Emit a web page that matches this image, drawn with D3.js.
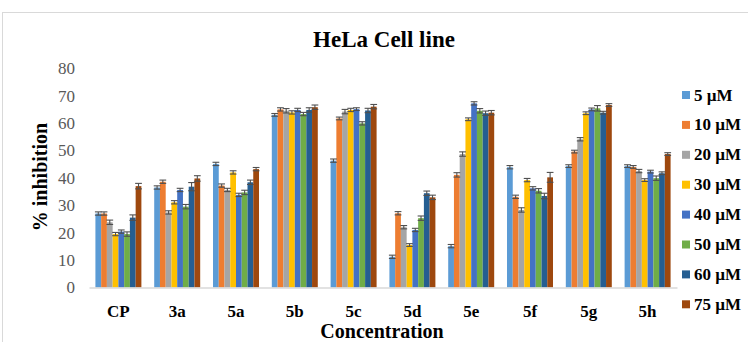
<!DOCTYPE html>
<html>
<head>
<meta charset="utf-8">
<script src="https://cdn.jsdelivr.net/npm/d3@7"></script>
<style>
  html, body { margin: 0; padding: 0; background: #fff; }
  svg { display: block; }
  text { font-family: "Liberation Serif", "Times New Roman", serif; }
</style>
</head>
<body>
<svg id="chart" width="748" height="342"></svg>
<script>
// Compounds on the x axis
const categories = ["CP", "3a", "5a", "5b", "5c", "5d", "5e", "5f", "5g", "5h"];
// Concentrations (one series each)
const seriesNames = ["5 µM", "10 µM", "20 µM", "30 µM", "40 µM", "50 µM", "60 µM", "75 µM"];
const seriesColors = ["#5B9BD5", "#ED7D31", "#A5A5A5", "#FFC000", "#4472C4", "#70AD47", "#255E91", "#9E480E"];

// % inhibition per concentration, one value per compound
const inh5  = [27.0, 36.5, 45.1, 63.0, 46.3, 11.2, 15.1, 43.9, 44.3, 44.3];
const inh10 = [27.0, 38.6, 37.2, 65.0, 61.7, 27.1, 41.1, 33.1, 49.6, 44.0];
const inh20 = [23.8, 27.4, 35.6, 64.5, 64.2, 22.0, 48.7, 28.3, 54.1, 42.5];
const inh30 = [19.5, 31.1, 42.0, 63.9, 64.8, 15.5, 61.4, 39.2, 63.6, 39.2];
const inh40 = [20.4, 35.6, 33.8, 64.8, 65.1, 21.0, 67.2, 36.2, 65.0, 42.3];
const inh50 = [19.5, 29.5, 34.7, 63.3, 59.9, 25.3, 64.5, 35.3, 65.4, 39.9];
const inh60 = [25.5, 36.8, 38.4, 64.8, 64.6, 34.4, 63.6, 33.4, 63.8, 41.7];
const inh75 = [37.0, 39.8, 43.2, 65.8, 66.0, 32.9, 63.8, 40.2, 66.6, 48.7];

// Standard deviations for the error bars
const sd5  = [0.6, 0.6, 0.6, 0.5, 0.6, 0.6, 0.6, 0.6, 0.5, 0.5];
const sd10 = [0.6, 0.6, 0.6, 0.6, 0.5, 0.6, 0.8, 0.6, 0.5, 0.5];
const sd20 = [0.8, 0.6, 0.6, 0.8, 0.8, 0.6, 0.8, 0.8, 0.6, 0.6];
const sd30 = [0.6, 0.6, 0.6, 0.6, 0.6, 0.5, 0.5, 0.6, 0.5, 0.5];
const sd40 = [0.6, 0.6, 0.6, 0.6, 0.5, 0.6, 0.6, 0.6, 0.5, 0.5];
const sd50 = [0.8, 0.8, 0.8, 0.6, 0.6, 0.8, 0.8, 0.8, 1.0, 0.8];
const sd60 = [1.0, 1.5, 0.8, 0.8, 0.8, 0.8, 0.8, 1.0, 0.5, 0.5];
const sd75 = [1.0, 1.0, 0.6, 0.8, 0.8, 0.8, 0.8, 1.8, 0.5, 0.5];

const yTicks = [0, 10, 20, 30, 40, 50, 60, 70, 80];

const values = [inh5, inh10, inh20, inh30, inh40, inh50, inh60, inh75];
const errors = [sd5, sd10, sd20, sd30, sd40, sd50, sd60, sd75];

const svg = d3.select("#chart");

// chart frame
svg.append("rect")
  .attr("x", 2.5).attr("y", 12.5)
  .attr("width", 760).attr("height", 360)
  .attr("fill", "none").attr("stroke", "#d9d9d9").attr("stroke-width", 1);

const plot = { left: 89, right: 677, top: 68.3, bottom: 287.5 };

const x0 = d3.scaleBand()
  .domain(categories)
  .range([plot.left, plot.right])
  .paddingInner(0.218)
  .paddingOuter(0.109);

const x1 = d3.scaleBand()
  .domain(d3.range(seriesNames.length))
  .range([0, x0.bandwidth()]);

const y = d3.scaleLinear().domain([0, 80]).range([plot.bottom, plot.top]);

// title
svg.append("text")
  .attr("x", 384).attr("y", 47)
  .attr("text-anchor", "middle")
  .attr("font-size", 23).attr("font-weight", "bold").attr("fill", "#000")
  .text("HeLa Cell line");

// y axis (labels only)
const yAxis = svg.append("g")
  .attr("transform", `translate(${plot.left - 14},0)`)
  .call(d3.axisLeft(y).tickValues(yTicks).tickSize(0).tickPadding(0));
yAxis.select(".domain").remove();
yAxis.selectAll("text")
  .attr("font-family", "Liberation Serif, Times New Roman, serif")
  .attr("font-size", 17).attr("fill", "#595959");

// bars
const groups = svg.append("g").selectAll("g")
  .data(categories)
  .join("g")
  .attr("transform", d => `translate(${x0(d)},0)`);

groups.selectAll("rect")
  .data((d, ci) => values.map((arr, si) => ({ si, v: arr[ci], e: errors[si][ci] })))
  .join("rect")
  .attr("x", d => x1(d.si))
  .attr("y", d => y(d.v))
  .attr("width", x1.bandwidth())
  .attr("height", d => y(0) - y(d.v))
  .attr("fill", d => seriesColors[d.si]);

// error bars
const err = groups.selectAll("g.err")
  .data((d, ci) => values.map((arr, si) => ({ si, v: arr[ci], e: errors[si][ci] })))
  .join("g").attr("class", "err")
  .attr("stroke", "#505050").attr("stroke-width", 1.1);
err.append("line")
  .attr("x1", d => x1(d.si) + x1.bandwidth() / 2)
  .attr("x2", d => x1(d.si) + x1.bandwidth() / 2)
  .attr("y1", d => y(d.v - d.e)).attr("y2", d => y(d.v + d.e));
["v+", "v-"].forEach(k => {
  err.append("line")
    .attr("x1", d => x1(d.si) - 0.5)
    .attr("x2", d => x1(d.si) + x1.bandwidth() + 0.5)
    .attr("y1", d => y(k === "v+" ? d.v + d.e : d.v - d.e))
    .attr("y2", d => y(k === "v+" ? d.v + d.e : d.v - d.e));
});

// x axis line and category labels
const xAxis = svg.append("g")
  .attr("transform", `translate(0,${plot.bottom})`)
  .call(d3.axisBottom(x0).tickSize(0).tickPadding(17));
xAxis.select(".domain")
  .attr("stroke", "#d9d9d9").attr("stroke-width", 1.5);
xAxis.selectAll("text")
  .attr("font-family", "Liberation Serif, Times New Roman, serif")
  .attr("font-size", 17).attr("font-weight", "bold").attr("fill", "#000");

// axis titles
svg.append("text")
  .attr("transform", "translate(47,177) rotate(-90)")
  .attr("text-anchor", "middle")
  .attr("font-size", 20).attr("font-weight", "bold").attr("fill", "#000")
  .text("% inhibition");

svg.append("text")
  .attr("x", 382).attr("y", 338)
  .attr("text-anchor", "middle")
  .attr("font-size", 20).attr("font-weight", "bold").attr("fill", "#000")
  .text("Concentration");

// legend
const legend = svg.append("g").selectAll("g")
  .data(seriesNames)
  .join("g")
  .attr("transform", (d, i) => `translate(682,${95 + i * 29.9})`);
legend.append("rect")
  .attr("x", 0).attr("y", -4).attr("width", 8).attr("height", 8)
  .attr("fill", (d, i) => seriesColors[i]);
legend.append("text")
  .attr("x", 12).attr("y", 5.5)
  .attr("font-size", 17).attr("font-weight", "bold").attr("fill", "#000")
  .text(d => d);
</script>
</body>
</html>
